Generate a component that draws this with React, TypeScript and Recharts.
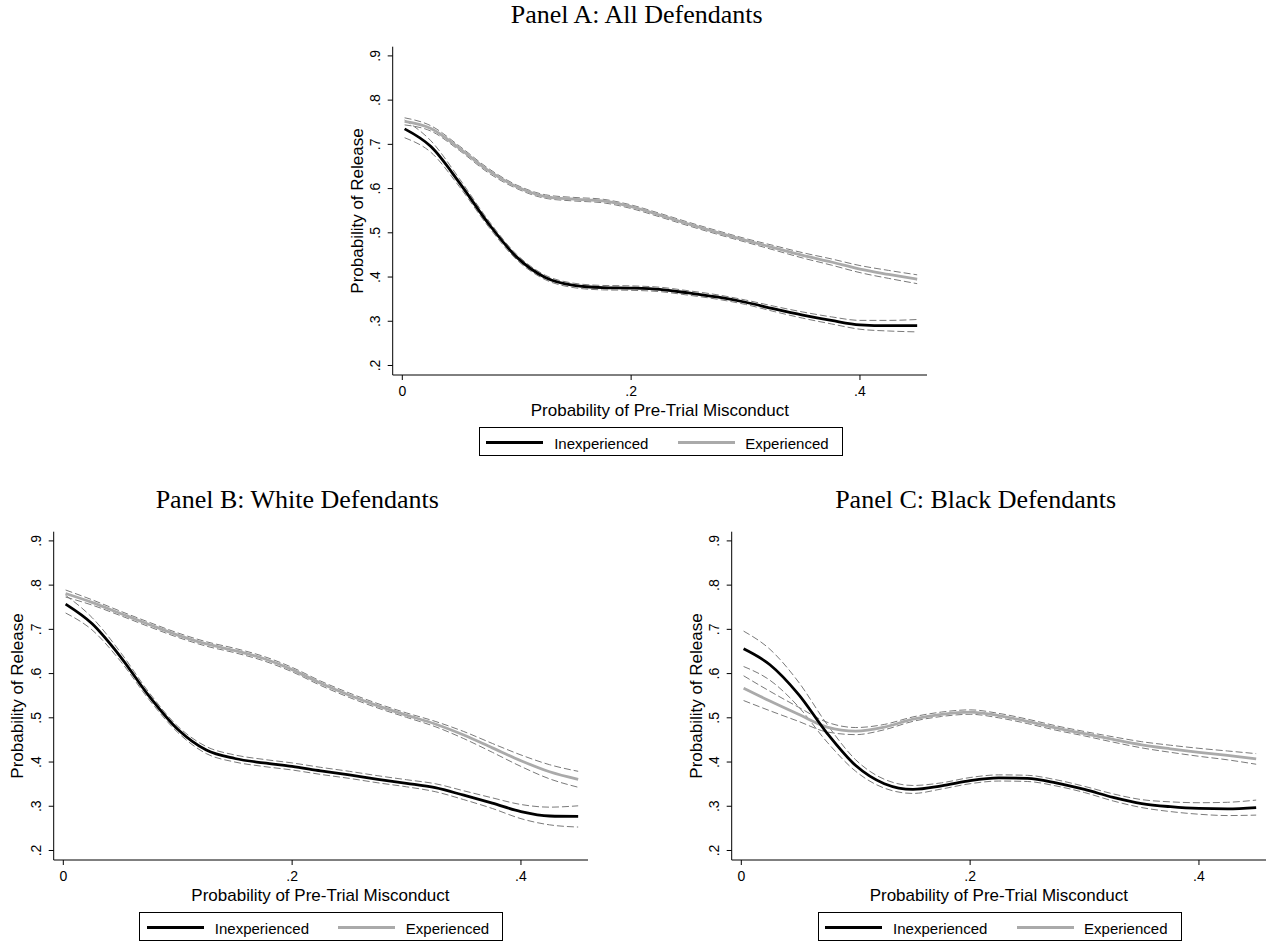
import React from "react";
import { LineChart, Line, XAxis, YAxis } from "recharts";

// Shared x grid (probability of pre-trial misconduct)
const xGrid = [0.002, 0.025, 0.05, 0.075, 0.1, 0.125, 0.15, 0.175, 0.2, 0.225, 0.25, 0.275, 0.3, 0.325, 0.35, 0.375, 0.4, 0.425, 0.45];

const xTicks = [0, 0.2, 0.4];
const yTicks = [0.2, 0.3, 0.4, 0.5, 0.6, 0.7, 0.8, 0.9];

const seriesNames = ["Inexperienced", "Experienced"];

// Panel A: All Defendants
const incA = [0.735, 0.695, 0.613, 0.522, 0.445, 0.399, 0.381, 0.376, 0.375, 0.372, 0.364, 0.355, 0.343, 0.328, 0.314, 0.302, 0.292, 0.29, 0.29];
const incALo = [0.715, 0.682, 0.604, 0.515, 0.439, 0.394, 0.376, 0.371, 0.37, 0.367, 0.359, 0.35, 0.338, 0.322, 0.307, 0.294, 0.282, 0.278, 0.276];
const incAHi = [0.755, 0.708, 0.622, 0.529, 0.451, 0.404, 0.386, 0.381, 0.38, 0.377, 0.369, 0.36, 0.348, 0.334, 0.321, 0.31, 0.302, 0.302, 0.304];
const expA = [0.752, 0.736, 0.691, 0.641, 0.604, 0.582, 0.576, 0.572, 0.559, 0.54, 0.52, 0.501, 0.483, 0.466, 0.449, 0.434, 0.418, 0.406, 0.395];
const expALo = [0.744, 0.73, 0.686, 0.636, 0.6, 0.578, 0.572, 0.568, 0.555, 0.536, 0.516, 0.497, 0.479, 0.461, 0.443, 0.427, 0.41, 0.397, 0.385];
const expAHi = [0.76, 0.742, 0.696, 0.646, 0.608, 0.586, 0.58, 0.576, 0.563, 0.544, 0.524, 0.505, 0.487, 0.471, 0.455, 0.441, 0.426, 0.415, 0.405];

// Panel B: White Defendants
const incB = [0.757, 0.713, 0.638, 0.549, 0.474, 0.427, 0.408, 0.398, 0.39, 0.38, 0.371, 0.361, 0.352, 0.342, 0.325, 0.307, 0.288, 0.278, 0.277];
const incBLo = [0.737, 0.699, 0.628, 0.541, 0.467, 0.419, 0.4, 0.39, 0.382, 0.372, 0.363, 0.353, 0.344, 0.333, 0.315, 0.295, 0.272, 0.258, 0.253];
const incBHi = [0.777, 0.727, 0.648, 0.557, 0.481, 0.435, 0.416, 0.406, 0.398, 0.388, 0.379, 0.369, 0.36, 0.351, 0.335, 0.319, 0.304, 0.298, 0.301];
const expB = [0.781, 0.761, 0.736, 0.711, 0.687, 0.667, 0.652, 0.634, 0.609, 0.578, 0.551, 0.527, 0.506, 0.486, 0.461, 0.432, 0.403, 0.378, 0.361];
const expBLo = [0.773, 0.755, 0.731, 0.706, 0.682, 0.662, 0.647, 0.629, 0.604, 0.573, 0.546, 0.522, 0.501, 0.48, 0.453, 0.422, 0.39, 0.362, 0.343];
const expBHi = [0.789, 0.767, 0.741, 0.716, 0.692, 0.672, 0.657, 0.639, 0.614, 0.583, 0.556, 0.532, 0.511, 0.492, 0.469, 0.442, 0.416, 0.394, 0.379];

// Panel C: Black Defendants
const incC = [0.656, 0.62, 0.553, 0.465, 0.392, 0.351, 0.338, 0.346, 0.358, 0.364, 0.363, 0.353, 0.338, 0.32, 0.306, 0.299, 0.295, 0.294, 0.297];
const incCLo = [0.616, 0.585, 0.525, 0.445, 0.379, 0.341, 0.329, 0.339, 0.351, 0.357, 0.356, 0.346, 0.331, 0.312, 0.297, 0.288, 0.282, 0.279, 0.28];
const incCHi = [0.696, 0.655, 0.581, 0.485, 0.405, 0.361, 0.347, 0.353, 0.365, 0.371, 0.37, 0.36, 0.345, 0.328, 0.315, 0.31, 0.308, 0.309, 0.314];
const expC = [0.567, 0.538, 0.508, 0.479, 0.47, 0.479, 0.497, 0.508, 0.513, 0.505, 0.492, 0.477, 0.464, 0.451, 0.439, 0.43, 0.422, 0.415, 0.407];
const expCLo = [0.539, 0.516, 0.492, 0.468, 0.462, 0.473, 0.492, 0.503, 0.508, 0.5, 0.487, 0.472, 0.459, 0.445, 0.432, 0.422, 0.413, 0.405, 0.395];
const expCHi = [0.595, 0.56, 0.524, 0.49, 0.478, 0.485, 0.502, 0.513, 0.518, 0.51, 0.497, 0.482, 0.469, 0.457, 0.446, 0.438, 0.431, 0.425, 0.419];

const buildData = (inc: number[], incLo: number[], incHi: number[], exp: number[], expLo: number[], expHi: number[]) =>
  xGrid.map((x, i) => ({ x, inc: inc[i], incLo: incLo[i], incHi: incHi[i], exp: exp[i], expLo: expLo[i], expHi: expHi[i] }));

const dataA = buildData(incA, incALo, incAHi, expA, expALo, expAHi);
const dataB = buildData(incB, incBLo, incBHi, expB, expBLo, expBHi);
const dataC = buildData(incC, incCLo, incCHi, expC, expCLo, expCHi);

const SANS = "'Liberation Sans', Arial, Helvetica, sans-serif";
const SERIF = "'Liberation Serif', 'Times New Roman', serif";

const fmt = (v: number) => (v === 0 ? "0" : v.toFixed(1).replace(/^0/, ""));

const XTick = (props: any) => {
  const { x, y, payload } = props;
  return (
    <text x={x} y={y + 11} dy="0.36em" textAnchor="middle" fontSize={14} fontFamily={SANS} fill="#000">
      {fmt(payload.value)}
    </text>
  );
};

const YTick = (props: any) => {
  const { x, y, payload } = props;
  const cx = x - 13;
  return (
    <text x={cx} y={y} dy="0.36em" textAnchor="middle" fontSize={14} fontFamily={SANS} fill="#000" transform={`rotate(-90, ${cx}, ${y})`}>
      {fmt(payload.value)}
    </text>
  );
};

const PLOT_W = 534.3;
const PLOT_H = 328.3;
const ML = 62.7;
const MT = 16.7;

const Panel = ({ title, left, top, data }: { title: string; left: number; top: number; data: any[] }) => {
  const ciStyle = { stroke: "#7a7a7a", strokeWidth: 1, strokeDasharray: "7 3" };
  return (
    <>
      <div
        style={{
          position: "absolute",
          left: left + 244,
          top: top - 31.7,
          transform: "translate(-50%, -50%)",
          fontFamily: SERIF,
          fontSize: 26,
          whiteSpace: "nowrap",
          color: "#000",
          lineHeight: 1,
        }}
      >
        {title}
      </div>
      <div style={{ position: "absolute", left: left - ML, top: top - MT }}>
        <LineChart width={600} height={415} data={data} margin={{ top: MT, right: 3, left: ML - 50, bottom: 20 }}>
          <XAxis
            dataKey="x"
            type="number"
            domain={[-0.0084, 0.4586]}
            ticks={xTicks}
            allowDataOverflow
            height={50}
            tickSize={5}
            tickMargin={0}
            tick={<XTick />}
            axisLine={{ stroke: "#000", strokeWidth: 1 }}
            tickLine={{ stroke: "#000", strokeWidth: 1 }}
          />
          <YAxis
            type="number"
            domain={[0.1785, 0.9208]}
            ticks={yTicks}
            allowDataOverflow
            width={50}
            tickSize={5}
            tickMargin={0}
            tick={<YTick />}
            axisLine={{ stroke: "#000", strokeWidth: 1 }}
            tickLine={{ stroke: "#000", strokeWidth: 1 }}
          />
          <Line dataKey="expLo" type="monotone" dot={false} isAnimationActive={false} {...ciStyle} />
          <Line dataKey="expHi" type="monotone" dot={false} isAnimationActive={false} {...ciStyle} />
          <Line dataKey="incLo" type="monotone" dot={false} isAnimationActive={false} {...ciStyle} />
          <Line dataKey="incHi" type="monotone" dot={false} isAnimationActive={false} {...ciStyle} />
          <Line dataKey="exp" name={seriesNames[1]} type="monotone" dot={false} isAnimationActive={false} stroke="#aaaaaa" strokeWidth={2.8} />
          <Line dataKey="inc" name={seriesNames[0]} type="monotone" dot={false} isAnimationActive={false} stroke="#000" strokeWidth={2.8} />
        </LineChart>
      </div>
      <div
        style={{
          position: "absolute",
          left: left - 36,
          top: top + PLOT_H / 2,
          transform: "translate(-50%, -50%) rotate(-90deg)",
          fontFamily: SANS,
          fontSize: 17,
          whiteSpace: "nowrap",
          lineHeight: 1,
          color: "#000",
        }}
      >
        Probability of Release
      </div>
      <div
        style={{
          position: "absolute",
          left: left + PLOT_W / 2,
          top: top + PLOT_H + 35,
          transform: "translate(-50%, -50%)",
          fontFamily: SANS,
          fontSize: 17,
          whiteSpace: "nowrap",
          lineHeight: 1,
          color: "#000",
        }}
      >
        Probability of Pre-Trial Misconduct
      </div>
      <div
        style={{
          position: "absolute",
          left: left + 86,
          top: top + 380.5,
          width: 364,
          height: 29.3,
          boxSizing: "border-box",
          border: "1px solid #000",
          fontFamily: SANS,
          fontSize: 15,
          color: "#000",
        }}
      >
        <div style={{ position: "absolute", left: 6.5, top: 13, width: 57, height: 3, background: "#000" }} />
        <div style={{ position: "absolute", left: 74.5, top: 14.5, transform: "translateY(-50%)", lineHeight: 1, whiteSpace: "nowrap" }}>
          {seriesNames[0]}
        </div>
        <div style={{ position: "absolute", left: 198, top: 13, width: 57, height: 3, background: "#aaaaaa" }} />
        <div style={{ position: "absolute", left: 265.5, top: 14.5, transform: "translateY(-50%)", lineHeight: 1, whiteSpace: "nowrap" }}>
          {seriesNames[1]}
        </div>
      </div>
    </>
  );
};

export default function App() {
  return (
    <div style={{ position: "absolute", left: 0, top: 0, width: 1271, height: 946, overflow: "hidden", background: "#fff" }}>
      <Panel title="Panel A: All Defendants" left={392.7} top={46.7} data={dataA} />
      <Panel title="Panel B: White Defendants" left={53.3} top={531.7} data={dataB} />
      <Panel title="Panel C: Black Defendants" left={731.6} top={531.7} data={dataC} />
    </div>
  );
}
